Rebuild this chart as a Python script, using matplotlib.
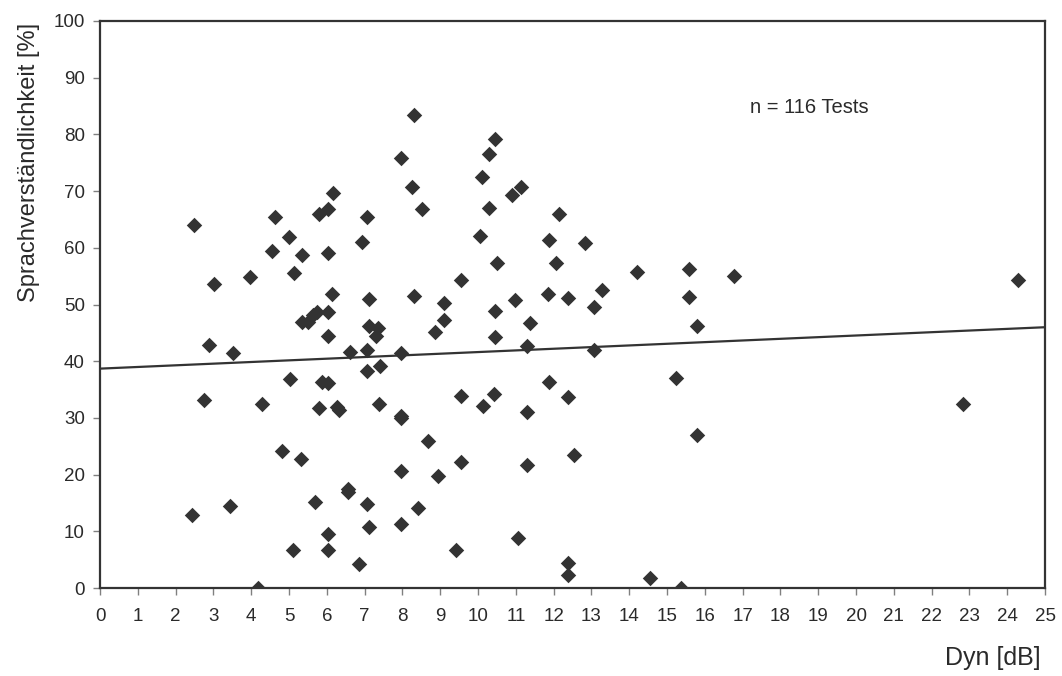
import numpy as np
import matplotlib
matplotlib.use("Agg")
import matplotlib.pyplot as plt

plt.rcParams['font.family'] = ['Liberation Sans', 'DejaVu Sans']

# Dynamik [dB] vs Sprachverstaendlichkeit [%]
dyn = [2.42, 2.49, 2.76, 2.87, 3.02, 3.43, 3.53, 3.98, 4.19, 4.29,
       4.54, 4.62, 4.82, 5.01, 5.03, 5.11, 5.12, 5.31, 5.34, 5.35,
       5.51, 5.64, 5.68, 5.73, 5.78, 5.78, 5.88, 6.02, 6.02, 6.02,
       6.02, 6.04, 6.02, 6.02, 6.14, 6.17, 6.26, 6.31, 6.57, 6.55,
       6.61, 6.86, 6.94, 7.05, 7.05, 7.05, 7.05, 7.12, 7.12, 7.12,
       7.30, 7.36, 7.37, 7.41, 7.95, 7.95, 7.95, 7.95, 7.95, 7.95,
       8.24, 8.31, 8.31, 8.40, 8.53, 8.68, 8.86, 8.94, 9.11, 9.10,
       9.43, 9.55, 9.55, 9.54, 10.06, 10.11, 10.14, 10.28, 10.28, 10.41,
       10.46, 10.46, 10.46, 10.50, 10.89, 10.98, 11.05, 11.15, 11.29, 11.29,
       11.29, 11.38, 11.84, 11.87, 11.88, 12.05, 12.14, 12.39, 12.39, 12.39,
       12.39, 12.55, 12.82, 13.06, 13.06, 13.27, 14.21, 14.56, 15.25, 15.38,
       15.57, 15.57, 15.78, 15.78, 16.76, 22.83, 24.28]
sv = [12.9, 64.0, 33.2, 42.9, 53.6, 14.5, 41.4, 54.9, 0.1, 32.5,
      59.4, 65.4, 24.2, 61.9, 36.9, 6.7, 55.5, 22.7, 47.0, 58.7,
      47.0, 48.1, 15.2, 48.7, 66.0, 31.7, 36.4, 66.8, 59.1, 48.6,
      44.5, 36.1, 9.6, 6.7, 51.8, 69.7, 31.9, 31.4, 17.4, 17.0,
      41.6, 4.3, 61.0, 65.4, 41.9, 38.3, 14.8, 50.9, 46.2, 10.7,
      44.4, 45.8, 32.5, 39.2, 75.8, 41.4, 30.4, 30.0, 20.6, 11.3,
      70.8, 83.5, 51.5, 14.1, 66.8, 25.9, 45.1, 19.7, 50.3, 47.2,
      6.7, 54.3, 33.9, 22.2, 62.0, 72.5, 32.1, 76.5, 67.1, 34.3,
      79.1, 48.9, 44.3, 57.3, 69.3, 50.8, 8.8, 70.7, 42.7, 31.1,
      21.7, 46.8, 51.9, 61.3, 36.3, 57.3, 66.0, 51.1, 33.7, 4.5,
      2.4, 23.4, 60.8, 49.6, 42.0, 52.6, 55.7, 1.7, 37.1, 0.1,
      56.3, 51.3, 46.3, 27.0, 55.1, 32.5, 54.3]

# linear trend line (end points)
trend_x = [0, 25]
trend_y = [38.7, 46.0]

x_ticks = np.arange(0, 26, 1)
y_ticks = np.arange(0, 101, 10)

dark = '#333333'
txt = '#2a2a2a'
fig = plt.figure(figsize=(10.62, 6.76), dpi=100)
ax = fig.add_axes([0.0942, 0.130, 0.8898, 0.839])

ax.plot(trend_x, trend_y, color=dark, lw=1.6, zorder=2)
ax.scatter(dyn, sv, marker='D', s=62, color=dark, linewidths=0, zorder=3)

ax.set_xlim(0, 25)
ax.set_ylim(0, 100)
ax.set_xticks(x_ticks)
ax.set_yticks(y_ticks)
ax.tick_params(axis='both', direction='out', length=5, width=1,
               color='#808080', labelsize=13.5, labelcolor=txt)
ax.tick_params(axis='x', pad=9)
ax.tick_params(axis='y', pad=6)
for s in ax.spines.values():
    s.set_color(dark)
    s.set_linewidth(1.6)

ax.set_ylabel('Sprachverständlichkeit [%]', fontsize=17, color=txt)
ax.yaxis.set_label_coords(-0.064, 0.75)
ax.set_xlabel('Dyn [dB]', fontsize=18, color=txt, loc='right')
ax.xaxis.set_label_coords(0.995, -0.102)

ax.text(17.2, 84.7, 'n = 116 Tests', fontsize=14.5, color=txt, va='center')

fig.savefig('out.png', dpi=100)
